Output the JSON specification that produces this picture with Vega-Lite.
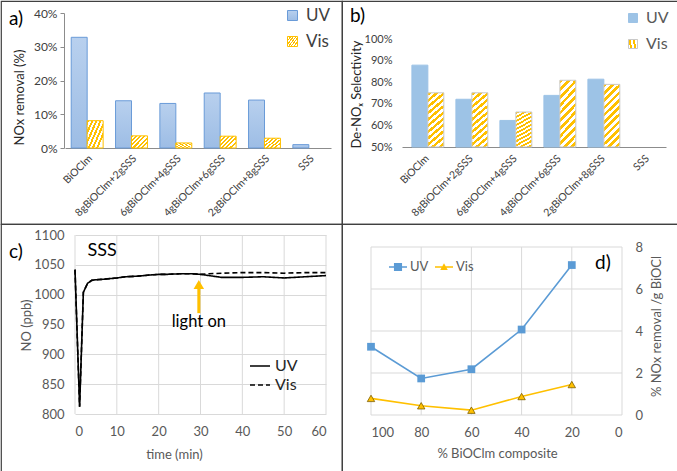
{
"$schema":"https://vega.github.io/schema/vega-lite/v6.json",
"padding":0,
"background":"white",
"config":{
 "font":"Lato",
 "axis":{"labelFont":"Lato","titleFont":"Lato","titleFontWeight":"normal"},
 "legend":{"labelFont":"Lato"},
 "title":{"font":"Lato","fontWeight":"normal","color":"#000000"},
 "text":{"font":"Lato"},
 "view":{"stroke":"#404040","strokeWidth":1.2}
},
"datasets":{
 "removalA":[
  {"sample":"BiOClm","series":"UV","pct":0.328},
  {"sample":"BiOClm","series":"Vis","pct":0.081},
  {"sample":"8gBiOClm+2gSSS","series":"UV","pct":0.140},
  {"sample":"8gBiOClm+2gSSS","series":"Vis","pct":0.036},
  {"sample":"6gBiOClm+4gSSS","series":"UV","pct":0.132},
  {"sample":"6gBiOClm+4gSSS","series":"Vis","pct":0.015},
  {"sample":"4gBiOClm+6gSSS","series":"UV","pct":0.163},
  {"sample":"4gBiOClm+6gSSS","series":"Vis","pct":0.035},
  {"sample":"2gBiOClm+8gSSS","series":"UV","pct":0.142},
  {"sample":"2gBiOClm+8gSSS","series":"Vis","pct":0.029},
  {"sample":"SSS","series":"UV","pct":0.010}
 ],
 "selectB":[
  {"sample":"BiOClm","series":"UV","pct":0.879},
  {"sample":"BiOClm","series":"Vis","pct":0.751},
  {"sample":"8gBiOClm+2gSSS","series":"UV","pct":0.721},
  {"sample":"8gBiOClm+2gSSS","series":"Vis","pct":0.751},
  {"sample":"6gBiOClm+4gSSS","series":"UV","pct":0.623},
  {"sample":"6gBiOClm+4gSSS","series":"Vis","pct":0.662},
  {"sample":"4gBiOClm+6gSSS","series":"UV","pct":0.739},
  {"sample":"4gBiOClm+6gSSS","series":"Vis","pct":0.809},
  {"sample":"2gBiOClm+8gSSS","series":"UV","pct":0.814},
  {"sample":"2gBiOClm+8gSSS","series":"Vis","pct":0.790}
 ],
 "perGram":[
  {"composite":100,"series":"UV","removal":3.25},
  {"composite":80,"series":"UV","removal":1.74},
  {"composite":60,"series":"UV","removal":2.18},
  {"composite":40,"series":"UV","removal":4.07},
  {"composite":20,"series":"UV","removal":7.14},
  {"composite":100,"series":"Vis","removal":0.79},
  {"composite":80,"series":"Vis","removal":0.44},
  {"composite":60,"series":"Vis","removal":0.23},
  {"composite":40,"series":"Vis","removal":0.88},
  {"composite":20,"series":"Vis","removal":1.45}
 ]
},
"columns":2,
"spacing":0,
"bounds":"flush",
"resolve":{"scale":{"opacity":"independent","strokeDash":"independent"},"legend":{"opacity":"independent","strokeDash":"independent"}},
"concat":[
 {
  "width":341,"height":223,
  "title":{"text":"a)","anchor":"start","frame":"group","orient":"top","offset":0,"dx":8,"dy":28,"fontSize":19},
  "data":{"name":"removalA"},
  "resolve":{"scale":{"opacity":"independent"},"legend":{"opacity":"independent"}},
  "encoding":{
   "x":{"field":"sample","type":"nominal","sort":null,
    "scale":{"domain":["BiOClm","8gBiOClm+2gSSS","6gBiOClm+4gSSS","4gBiOClm+6gSSS","2gBiOClm+8gSSS","SSS"],"range":[64,330],"paddingInner":0.28,"paddingOuter":0.14},
    "axis":{"orient":"bottom","offset":-76,"title":null,"labelAngle":-45,"labelFontSize":10.5,"labelColor":"#404040","labelPadding":5,"ticks":false,"domainColor":"#8C8C8C","domainWidth":1}},
   "xOffset":{"field":"series","type":"nominal","scale":{"domain":["UV","Vis"],"paddingInner":0,"paddingOuter":0}},
   "y":{"field":"pct","type":"quantitative","scale":{"domain":[0,0.4],"range":[147,12],"nice":false},
    "axis":{"orient":"left","offset":-63,"values":[0,0.1,0.2,0.3,0.4],"format":".0%","grid":false,"domain":true,"domainColor":"#8C8C8C","ticks":true,"tickSize":4,"tickColor":"#8C8C8C","labelFontSize":12,"labelColor":"#404040","labelPadding":3,"title":"NOx  removal (%)","titleFontSize":13,"titleColor":"#262626","titleAngle":-90,"titleBaseline":"bottom","titleX":-38,"titleY":96}},
   "y2":{"datum":0}
  },
  "layer":[
   {
    "transform":[{"filter":"datum.series === 'UV'"}],
    "mark":{"type":"bar","strokeWidth":1,"stroke":"#6A9BD8","fill":{"gradient":"linear","x1":0,"y1":0,"x2":0,"y2":1,"stops":[{"offset":0,"color":"#B8D0EE"},{"offset":1,"color":"#9DBDE5"}]}},
    "encoding":{
     "opacity":{"field":"series","type":"nominal","scale":{"domain":["UV"],"range":[1]},
      "legend":{"title":null,"orient":"none","legendX":283,"legendY":6,"symbolType":"square","symbolSize":100,"symbolStrokeWidth":1,"labelFontSize":17,"labelColor":"#404040","labelOffset":5}}
    }
   },
   {
    "transform":[{"filter":"datum.series === 'Vis'"}],
    "mark":{"type":"bar","strokeWidth":1,"stroke":"#FFC000","fill":{"gradient":"linear","x1":0,"y1":0,"x2":1,"y2":0.75,"stops":[
     {"offset":0,"color":"#FFC000"},{"offset":0.083,"color":"#FFC000"},{"offset":0.083,"color":"#FFFFFF"},{"offset":0.167,"color":"#FFFFFF"},
     {"offset":0.167,"color":"#FFC000"},{"offset":0.25,"color":"#FFC000"},{"offset":0.25,"color":"#FFFFFF"},{"offset":0.333,"color":"#FFFFFF"},
     {"offset":0.333,"color":"#FFC000"},{"offset":0.417,"color":"#FFC000"},{"offset":0.417,"color":"#FFFFFF"},{"offset":0.5,"color":"#FFFFFF"},
     {"offset":0.5,"color":"#FFC000"},{"offset":0.583,"color":"#FFC000"},{"offset":0.583,"color":"#FFFFFF"},{"offset":0.667,"color":"#FFFFFF"},
     {"offset":0.667,"color":"#FFC000"},{"offset":0.75,"color":"#FFC000"},{"offset":0.75,"color":"#FFFFFF"},{"offset":0.833,"color":"#FFFFFF"},
     {"offset":0.833,"color":"#FFC000"},{"offset":0.917,"color":"#FFC000"},{"offset":0.917,"color":"#FFFFFF"},{"offset":1,"color":"#FFFFFF"}]}},
    "encoding":{
     "opacity":{"field":"series","type":"nominal","scale":{"domain":["Vis"],"range":[1]},
      "legend":{"title":null,"orient":"none","legendX":283,"legendY":32,"symbolType":"square","symbolSize":100,"symbolStrokeWidth":1,"labelFontSize":17,"labelColor":"#404040","labelOffset":5}}
    }
   }
  ]
 },
 {
  "width":336,"height":223,
  "title":{"text":"b)","anchor":"start","frame":"group","orient":"top","offset":0,"dx":8,"dy":25,"fontSize":19},
  "data":{"name":"selectB"},
  "resolve":{"scale":{"opacity":"independent"},"legend":{"opacity":"independent"}},
  "encoding":{
   "x":{"field":"sample","type":"nominal","sort":null,
    "scale":{"domain":["BiOClm","8gBiOClm+2gSSS","6gBiOClm+4gSSS","4gBiOClm+6gSSS","2gBiOClm+8gSSS","SSS"],"range":[60,324],"paddingInner":0.45,"paddingOuter":0.225},
    "axis":{"orient":"bottom","offset":-77,"title":null,"labelAngle":-45,"labelFontSize":10.5,"labelColor":"#404040","labelPadding":6,"ticks":false,"domainColor":"#8C8C8C","domainWidth":1}},
   "xOffset":{"field":"series","type":"nominal","scale":{"domain":["UV","Vis"],"paddingInner":0.15,"paddingOuter":0}},
   "y":{"field":"pct","type":"quantitative","scale":{"domain":[0.5,1.0],"range":[146,38],"nice":false,"zero":false},
    "axis":{"orient":"left","offset":-58,"values":[0.5,0.6,0.7,0.8,0.9,1.0],"format":".0%","grid":false,"domain":false,"ticks":false,"labelFontSize":11,"labelColor":"#404040","labelPadding":8,"title":"De-NOₓ Selectivity","titleFontSize":13,"titleColor":"#262626","titleAngle":-90,"titleBaseline":"bottom","titleX":-37,"titleY":93}},
   "y2":{"datum":0.5}
  },
  "layer":[
   {
    "transform":[{"filter":"datum.series === 'UV'"}],
    "mark":{"type":"bar","fill":"#9DC3E6","stroke":"#9DC3E6","strokeWidth":1},
    "encoding":{
     "opacity":{"field":"series","type":"nominal","scale":{"domain":["UV"],"range":[1]},
      "legend":{"title":null,"orient":"none","legendX":283,"legendY":9,"symbolType":"square","symbolSize":81,"symbolStrokeWidth":1,"labelFontSize":16,"labelColor":"#595959","labelOffset":5}}
    }
   },
   {
    "transform":[{"filter":"datum.series === 'Vis'"}],
    "mark":{"type":"bar","stroke":"#C9C9C9","strokeWidth":1,"fill":{"gradient":"linear","x1":0,"y1":0,"x2":0.3,"y2":1.2,"stops":[
     {"offset":0,"color":"#FFC000"},{"offset":0.045,"color":"#FFC000"},{"offset":0.045,"color":"#FFFFFF"},{"offset":0.091,"color":"#FFFFFF"},
     {"offset":0.091,"color":"#FFC000"},{"offset":0.136,"color":"#FFC000"},{"offset":0.136,"color":"#FFFFFF"},{"offset":0.182,"color":"#FFFFFF"},
     {"offset":0.182,"color":"#FFC000"},{"offset":0.227,"color":"#FFC000"},{"offset":0.227,"color":"#FFFFFF"},{"offset":0.273,"color":"#FFFFFF"},
     {"offset":0.273,"color":"#FFC000"},{"offset":0.318,"color":"#FFC000"},{"offset":0.318,"color":"#FFFFFF"},{"offset":0.364,"color":"#FFFFFF"},
     {"offset":0.364,"color":"#FFC000"},{"offset":0.409,"color":"#FFC000"},{"offset":0.409,"color":"#FFFFFF"},{"offset":0.455,"color":"#FFFFFF"},
     {"offset":0.455,"color":"#FFC000"},{"offset":0.5,"color":"#FFC000"},{"offset":0.5,"color":"#FFFFFF"},{"offset":0.545,"color":"#FFFFFF"},
     {"offset":0.545,"color":"#FFC000"},{"offset":0.591,"color":"#FFC000"},{"offset":0.591,"color":"#FFFFFF"},{"offset":0.636,"color":"#FFFFFF"},
     {"offset":0.636,"color":"#FFC000"},{"offset":0.682,"color":"#FFC000"},{"offset":0.682,"color":"#FFFFFF"},{"offset":0.727,"color":"#FFFFFF"},
     {"offset":0.727,"color":"#FFC000"},{"offset":0.773,"color":"#FFC000"},{"offset":0.773,"color":"#FFFFFF"},{"offset":0.818,"color":"#FFFFFF"},
     {"offset":0.818,"color":"#FFC000"},{"offset":0.864,"color":"#FFC000"},{"offset":0.864,"color":"#FFFFFF"},{"offset":0.909,"color":"#FFFFFF"},
     {"offset":0.909,"color":"#FFC000"},{"offset":0.955,"color":"#FFC000"},{"offset":0.955,"color":"#FFFFFF"},{"offset":1,"color":"#FFFFFF"}]}},
    "encoding":{
     "opacity":{"field":"series","type":"nominal","scale":{"domain":["Vis"],"range":[1]},
      "legend":{"title":null,"orient":"none","legendX":283,"legendY":35,"symbolType":"square","symbolSize":81,"symbolStrokeWidth":1,"labelFontSize":16,"labelColor":"#595959","labelOffset":5}}
    }
   }
  ]
 },
 {
  "width":341,"height":248,
  "title":{"text":"c)","anchor":"start","frame":"group","orient":"top","offset":0,"dx":8,"dy":38,"fontSize":19},
  "resolve":{"axis":{"x":"independent","y":"independent"}},
  "layer":[
   {
    "data":{"values":[{"time":0},{"time":10},{"time":20},{"time":30},{"time":40},{"time":50},{"time":60}]},
    "mark":{"type":"rule","color":"#D9D9D9","strokeWidth":1},
    "encoding":{
     "x":{"field":"time","type":"quantitative","axis":null},
     "y":{"datum":800,"type":"quantitative","axis":null},
     "y2":{"datum":1100}
    }
   },
   {
    "data":{"values":[
     {"time":0,"series":"UV","NO":1042},{"time":1.1,"series":"UV","NO":812},{"time":2,"series":"UV","NO":1004},{"time":3,"series":"UV","NO":1019},{"time":4,"series":"UV","NO":1024},{"time":5,"series":"UV","NO":1025},{"time":7,"series":"UV","NO":1026},{"time":10,"series":"UV","NO":1028},{"time":12,"series":"UV","NO":1030},{"time":15,"series":"UV","NO":1031},{"time":18,"series":"UV","NO":1033},{"time":20,"series":"UV","NO":1034},{"time":22,"series":"UV","NO":1034},{"time":25,"series":"UV","NO":1035},{"time":28,"series":"UV","NO":1035},{"time":30,"series":"UV","NO":1034},{"time":32,"series":"UV","NO":1032},{"time":35,"series":"UV","NO":1029},{"time":40,"series":"UV","NO":1029},{"time":45,"series":"UV","NO":1030},{"time":50,"series":"UV","NO":1028},{"time":55,"series":"UV","NO":1030},{"time":60,"series":"UV","NO":1032},
     {"time":0,"series":"Vis","NO":1042},{"time":1.1,"series":"Vis","NO":812},{"time":2,"series":"Vis","NO":1004},{"time":3,"series":"Vis","NO":1019},{"time":4,"series":"Vis","NO":1024},{"time":5,"series":"Vis","NO":1025},{"time":7,"series":"Vis","NO":1026},{"time":10,"series":"Vis","NO":1028},{"time":12,"series":"Vis","NO":1030},{"time":15,"series":"Vis","NO":1031},{"time":18,"series":"Vis","NO":1033},{"time":20,"series":"Vis","NO":1034},{"time":22,"series":"Vis","NO":1034},{"time":25,"series":"Vis","NO":1035},{"time":28,"series":"Vis","NO":1035},{"time":30,"series":"Vis","NO":1034},{"time":32,"series":"Vis","NO":1035},{"time":35,"series":"Vis","NO":1036},{"time":40,"series":"Vis","NO":1037},{"time":45,"series":"Vis","NO":1037},{"time":50,"series":"Vis","NO":1036},{"time":55,"series":"Vis","NO":1037},{"time":60,"series":"Vis","NO":1037}
    ]},
    "mark":{"type":"line","color":"#000000","strokeWidth":1.6},
    "encoding":{
     "x":{"field":"time","type":"quantitative","scale":{"domain":[0,60],"range":[74,325],"nice":false},
      "axis":{"orient":"bottom","offset":-58,"values":[0,10,20,30,40,50,60],"grid":false,"domain":false,"ticks":false,"labelFontSize":13,"labelColor":"#595959","labelPadding":11,"title":"time (min)","titleFontSize":13,"titleColor":"#595959","titleX":173,"titleY":34,"titleBaseline":"top"}},
     "y":{"field":"NO","type":"quantitative","scale":{"domain":[800,1100],"range":[190,11],"nice":false,"zero":false},
      "axis":{"orient":"left","offset":-74,"values":[800,850,900,950,1000,1050,1100],"format":"d","grid":true,"gridColor":"#D9D9D9","domain":false,"ticks":false,"labelFontSize":13,"labelColor":"#595959","labelPadding":11,"title":"NO (ppb)","titleFontSize":13,"titleColor":"#595959","titleAngle":-90,"titleBaseline":"bottom","titleX":-42,"titleY":101}},
     "strokeDash":{"field":"series","type":"nominal","scale":{"domain":["UV","Vis"],"range":[[1,0],[5,3]]},
      "legend":{"title":null,"orient":"none","legendX":248,"legendY":131,"symbolType":"stroke","symbolSize":400,"symbolStrokeWidth":1.6,"symbolStrokeColor":"#000000","labelFontSize":16,"labelColor":"#262626","labelOffset":4,"rowPadding":0}}
    }
   },
   {
    "data":{"values":[{"time":29.6,"from":969,"to":1012}]},
    "mark":{"type":"rule","color":"#FFC000","strokeWidth":3},
    "encoding":{"x":{"field":"time","type":"quantitative","axis":null},"y":{"field":"from","type":"quantitative","axis":null},"y2":{"field":"to"}}
   },
   {
    "data":{"values":[{"time":29.6,"NO":1017}]},
    "mark":{"type":"point","shape":"triangle-up","filled":true,"color":"#FFC000","size":110,"opacity":1},
    "encoding":{"x":{"field":"time","type":"quantitative","axis":null},"y":{"field":"NO","type":"quantitative","axis":null}}
   },
   {
    "data":{"values":[{"time":29.6,"NO":954,"label":"light on"}]},
    "mark":{"type":"text","fontSize":16.5,"color":"#000000","align":"center","baseline":"middle"},
    "encoding":{"x":{"field":"time","type":"quantitative","axis":null},"y":{"field":"NO","type":"quantitative","axis":null},"text":{"field":"label"}}
   },
   {
    "data":{"values":[{"time":6.5,"NO":1073,"label":"SSS"}]},
    "mark":{"type":"text","fontSize":18,"color":"#000000","align":"center","baseline":"middle"},
    "encoding":{"x":{"field":"time","type":"quantitative","axis":null},"y":{"field":"NO","type":"quantitative","axis":null},"text":{"field":"label"}}
   }
  ]
 },
 {
  "width":336,"height":248,
  "title":{"text":"d)","anchor":"start","frame":"group","orient":"top","offset":0,"dx":253,"dy":49,"fontSize":19},
  "resolve":{"axis":{"x":"independent","y":"independent"},"scale":{"opacity":"independent"},"legend":{"opacity":"independent"}},
  "layer":[
   {
    "data":{"values":[{"composite":0.000001},{"composite":20},{"composite":40},{"composite":60},{"composite":80},{"composite":100}]},
    "mark":{"type":"rule","color":"#D9D9D9","strokeWidth":1},
    "encoding":{
     "x":{"field":"composite","type":"quantitative","axis":null},
     "y":{"datum":8,"type":"quantitative","axis":null},
     "y2":{"datum":0.000001}
    }
   },
   {
    "data":{"values":[{"removal":0.000001},{"removal":2},{"removal":4},{"removal":6},{"removal":8}]},
    "mark":{"type":"rule","color":"#D9D9D9","strokeWidth":1},
    "encoding":{
     "y":{"field":"removal","type":"quantitative","axis":null},
     "x":{"datum":100,"type":"quantitative","axis":null},
     "x2":{"datum":0.000001}
    }
   },
   {
    "data":{"name":"perGram"},
    "transform":[{"filter":"datum.series === 'UV'"}],
    "mark":{"type":"line","color":"#5B9BD5","strokeWidth":1.6},
    "encoding":{
     "x":{"field":"composite","type":"quantitative","scale":{"domain":[0,100],"range":[29,280],"reverse":true,"nice":false},
      "axis":{"orient":"bottom","offset":-57,"values":[0,20,40,60,80,100],"grid":false,"domain":false,"ticks":false,"labelFontSize":13,"labelColor":"#595959","labelPadding":11,"title":"% BiOClm composite","titleFontSize":13,"titleColor":"#595959","titleX":155,"titleY":32,"titleBaseline":"top"}},
     "y":{"field":"removal","type":"quantitative","scale":{"domain":[0,8],"range":[191,23],"nice":false},
      "axis":{"orient":"right","offset":-56,"values":[0,2,4,6,8],"grid":false,"domain":false,"ticks":false,"labelFontSize":13,"labelColor":"#595959","labelPadding":13,"title":"% NOx removal /g BiOCl","titleFontSize":13,"titleColor":"#595959","titleAngle":-90,"titleBaseline":"bottom","titleX":41,"titleY":102}},
     "opacity":{"field":"series","type":"nominal","scale":{"domain":["UV"],"range":[1]},
      "legend":{"title":null,"orient":"none","legendX":47,"legendY":34,"symbolType":"M-1,-0.08H1V0.08H-1ZM-0.45,-0.45H0.45V0.45H-0.45Z","symbolSize":324,"symbolFillColor":"#5B9BD5","symbolStrokeColor":"#5B9BD5","symbolStrokeWidth":0,"labelFontSize":13,"labelColor":"#595959","labelOffset":3}}
    }
   },
   {
    "data":{"name":"perGram"},
    "transform":[{"filter":"datum.series === 'Vis'"}],
    "mark":{"type":"line","color":"#FFC000","strokeWidth":1.6},
    "encoding":{
     "x":{"field":"composite","type":"quantitative","axis":null},
     "y":{"field":"removal","type":"quantitative","axis":null},
     "opacity":{"field":"series","type":"nominal","scale":{"domain":["Vis"],"range":[1]},
      "legend":{"title":null,"orient":"none","legendX":93,"legendY":34,"symbolType":"M-1,-0.08H1V0.08H-1ZM0,-0.42L0.42,0.32H-0.42Z","symbolSize":324,"symbolFillColor":"#FFC000","symbolStrokeColor":"#FFC000","symbolStrokeWidth":0,"labelFontSize":13,"labelColor":"#595959","labelOffset":3}}
    }
   },
   {
    "data":{"name":"perGram"},
    "transform":[{"filter":"datum.series === 'UV'"}],
    "mark":{"type":"point","shape":"square","filled":true,"size":60,"color":"#5B9BD5","opacity":1},
    "encoding":{
     "x":{"field":"composite","type":"quantitative","axis":null},
     "y":{"field":"removal","type":"quantitative","axis":null}
    }
   },
   {
    "data":{"name":"perGram"},
    "transform":[{"filter":"datum.series === 'Vis'"}],
    "mark":{"type":"point","shape":"triangle-up","filled":true,"size":55,"fill":"#FFC000","stroke":"#7F6000","strokeWidth":0.8,"opacity":1},
    "encoding":{
     "x":{"field":"composite","type":"quantitative","axis":null},
     "y":{"field":"removal","type":"quantitative","axis":null}
    }
   }
  ]
 }
]
}
